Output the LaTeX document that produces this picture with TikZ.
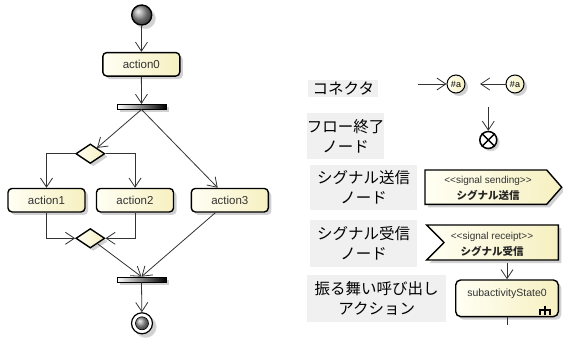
\documentclass[tikz,border=0pt]{standalone}
\usepackage{fontspec}
\setmainfont{Liberation Sans}
\newfontfamily\jp{Noto Sans CJK JP}
\usetikzlibrary{arrows.meta,shapes.geometric,shadows,calc}
\definecolor{nfillA}{HTML}{FFFFF4}
\definecolor{nfillB}{HTML}{F6F0C0}
\definecolor{lblbg}{HTML}{F0F0F0}
\definecolor{edgec}{HTML}{333333}
\newcommand{\dlt}{\textless\kern0pt\textless}
\newcommand{\dgt}{\textgreater\kern0pt\textgreater}
\tikzset{
  dshadow/.style={drop shadow={shadow xshift=3pt,shadow yshift=-3pt,fill=black!18,opacity=1}},
  act/.style={draw=black,line width=1.4pt,rounded corners=4pt,left color=nfillA,right color=nfillB,
    minimum width=77pt,minimum height=23.5pt,inner sep=0pt,font=\fontsize{11.5}{13}\selectfont,text=black!80,dshadow},
  dec/.style={diamond,draw=black,line width=1.4pt,left color=nfillA,right color=nfillB,
    minimum width=29pt,minimum height=19.5pt,inner sep=0pt,dshadow},
  bar/.style={rectangle,draw=black,line width=0.6pt,left color=white,right color=black,
    minimum width=49pt,minimum height=5pt,inner sep=0pt,dshadow},
  flow/.style={draw=edgec,line width=0.8pt,-{Straight Barb[length=9pt,width=12pt]}},
  plain/.style={draw=edgec,line width=0.8pt},
  lbl/.style={fill=lblbg,inner sep=0pt,font=\jp\fontsize{15.5}{20.5}\selectfont,align=center,text=black},
  conn/.style={circle,draw=black,line width=1pt,left color=nfillA,right color=nfillB,minimum size=18pt,
    inner sep=0pt,font=\fontsize{9}{10}\selectfont,dshadow},
  sig/.style={draw=black,line width=1.4pt,left color=nfillA,right color=nfillB,dshadow},
  smalltxt/.style={font=\fontsize{10}{11}\selectfont,text=black!80,inner sep=0pt},
  smalljp/.style={font=\jp\bfseries\fontsize{10.5}{12}\selectfont,text=black!85,inner sep=0pt}
}
\begin{document}
\begin{tikzpicture}[x=1pt,y=-1pt]
\useasboundingbox (0,0) rectangle (563,340);

% ---------- left diagram ----------
\node[circle,draw=black,line width=1.4pt,ball color=gray!80,minimum size=20pt,inner sep=0pt,
  circular drop shadow={shadow xshift=3pt,shadow yshift=-3pt,fill=black!18,opacity=1}] (init) at (141.7,15) {};
\node[act] (a0) at (141.3,64.3) {action0};
\node[bar] (fork) at (141.5,106.7) {};
\node[dec] (d1) at (90.3,153.7) {};
\node[act] (a1) at (46.5,200.2) {action1};
\node[act] (a2) at (135,200.2) {action2};
\node[act] (a3) at (229.8,200.2) {action3};
\node[dec] (d2) at (90.3,238.3) {};
\node[bar] (join) at (141.5,279.5) {};
\node[circle,draw=black,line width=1.2pt,fill=white,minimum size=21pt,inner sep=0pt,
  circular drop shadow={shadow xshift=3pt,shadow yshift=-3pt,fill=black!18,opacity=1}] (fin) at (142,323.3) {};
\node[circle,draw=black,line width=0.6pt,ball color=gray!80,minimum size=13pt,inner sep=0pt] (finin) at (fin) {};

\draw[flow] (init) -- (a0);
\draw[flow] (a0) -- (fork.north);
\draw[flow] (fork.south) -- (d1);
\draw[flow] (fork.south) -- (a3);
\draw[flow] (d1.west) -| (a1.north);
\draw[flow] (d1.east) -| (a2.north);
\draw[flow] (a1.south) |- (d2.west);
\draw[flow] (a2.south) |- (d2.east);
\draw[flow] (d2) -- (join.north);
\draw[flow] (a3) -- (join.north);
\draw[flow] (join.south) -- (fin);

% ---------- legend ----------
\node[lbl,minimum width=70pt,minimum height=17.3pt] (l1) at (343.3,88.7) {コネクタ};
\node[lbl,minimum width=74.7pt,minimum height=45.7pt] (l2) at (345.7,136.2) {フロー終了\\ノード};
\node[lbl,minimum width=107.3pt,minimum height=45pt] (l3) at (363.7,187.5) {シグナル送信\\ノード};
\node[lbl,minimum width=107pt,minimum height=46.7pt] (l4) at (363.5,243.3) {シグナル受信\\ノード};
\node[lbl,minimum width=138.7pt,minimum height=46.7pt] (l5) at (376.7,298.3) {振る舞い呼び出し\\アクション};

% connectors
\node[conn] (c1) at (456,84) {\#a};
\node[conn] (c2) at (515,84) {\#a};
\coordinate (ca) at (418,84);
\coordinate (cb) at (480,84);
\draw[flow] (ca) -- (c1);
\draw[flow] (c2) -- (cb);

% flow final
\node[circle,draw=black,line width=1.5pt,fill=white,minimum size=17pt,inner sep=0pt,
  circular drop shadow={shadow xshift=2pt,shadow yshift=-2pt,fill=black!18,opacity=1}] (ff) at (488.3,140) {};
\draw[line width=1.4pt] (ff.north west) -- (ff.south east) (ff.north east) -- (ff.south west);
\coordinate (fft) at (488.3,106.7);
\draw[flow] (fft) -- (ff);

% signal sending
\path[sig] (425,170) -- (546.7,170) -- (561.7,187.2) -- (546.7,204.3) -- (425,204.3) -- cycle;
\node[smalltxt] (ss1) at (488,181) {\dlt signal sending\dgt};
\node[smalljp] (ss2) at (488,195.5) {シグナル送信};

% signal receipt
\path[sig] (426.7,225) -- (558.3,225) -- (558.3,260) -- (426.7,260) -- (444,242.5) -- cycle;
\node[smalltxt] (sr1) at (492,236.5) {\dlt signal receipt\dgt};
\node[smalljp] (sr2) at (492,251) {シグナル受信};

% call behavior action
\node[draw=black,line width=1.4pt,rounded corners=5pt,left color=nfillA,right color=nfillB,
  minimum width=102.6pt,minimum height=36.7pt,inner sep=0pt,dshadow] (sub) at (507,298.3) {};
\node[smalltxt,font=\fontsize{10.5}{12}\selectfont] (subt) at (507,294) {subactivityState0};
\draw[line width=1.8pt] (540.3,315) -- (540.3,310) -- (549.7,310) -- (549.7,315)
  (545,305.5) -- (545,315);
\coordinate (subin) at (507,263);
\coordinate (subout) at (507,325);
\draw[flow] (subin) -- (sub.north);
\draw[plain] (sub.south) -- (subout);
\end{tikzpicture}
\end{document}
